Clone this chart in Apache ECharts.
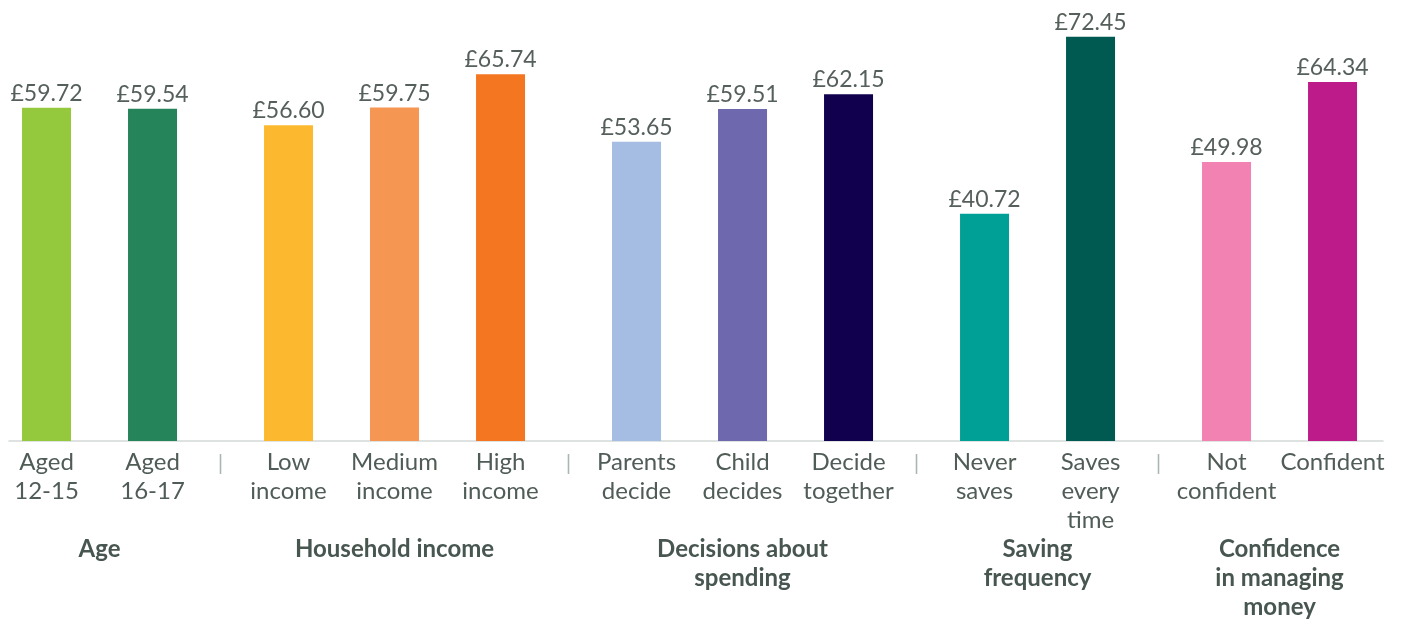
<!DOCTYPE html>
<html>
<head>
<meta charset="utf-8">
<script src="https://cdn.jsdelivr.net/npm/echarts@6/dist/echarts.min.js"></script>
<style>
  html, body { margin: 0; padding: 0; background: #fff; }
  #chart { width: 1401px; height: 619px; }
</style>
</head>
<body>
<div id="chart"></div>
<script>
  // data
  const groups = ['Age', 'Household income', 'Decisions about\nspending', 'Saving\nfrequency', 'Confidence\nin managing\nmoney']
  const categories = ['Aged\n12-15', 'Aged\n16-17', 'Low\nincome', 'Medium\nincome', 'High\nincome',
    'Parents\ndecide', 'Child\ndecides', 'Decide\ntogether', 'Never\nsaves', 'Saves\nevery\ntime',
    'Not\nconfident', 'Confident']
  const groupOf = [0, 0, 1, 1, 1, 2, 2, 2, 3, 3, 4, 4]
  const values = [59.72, 59.54, 56.60, 59.75, 65.74, 53.65, 59.51, 62.15, 40.72, 72.45, 49.98, 64.34]

  // styles
  const colors = ['#94c83d', '#26845a', '#fcb930', '#f59652', '#f47621', '#a5bce3',
    '#6e68ae', '#11004e', '#00a096', '#005a52', '#f182b2', '#bd1a8a']
  const groupGap = 0.283
  const font = 'Lato'

  // slot positions: one unit per bar, plus a gap between groups
  const pos = categories.map((c, i) => i + groupOf[i] * groupGap)
  const groupPos = groups.map((g, gi) => {
    const p = pos.filter((v, i) => groupOf[i] === gi)
    return p.reduce((a, b) => a + b, 0) / p.length
  })
  const sepPos = []
  for (let i = 1; i < pos.length; i++) {
    if (groupOf[i] !== groupOf[i - 1]) sepPos.push((pos[i] + pos[i - 1]) / 2)
  }

  const nearest = (arr, v) => {
    let best = 0
    arr.forEach((p, i) => { if (Math.abs(p - v) < Math.abs(arr[best] - v)) best = i })
    return best
  }

  const xMin = -0.354
  const xMax = 12.608
  const baseX = { type: 'value', min: xMin, max: xMax, position: 'bottom', splitLine: { show: false }, axisTick: { show: false } }

  const chart = echarts.init(document.getElementById('chart'))
  chart.setOption({
    animation: false,
    grid: { left: 9, right: 18, top: 22.5, bottom: 178, containLabel: false, outerBoundsMode: 'none' },
    xAxis: [
      Object.assign({}, baseX, {
        axisLine: { show: true, lineStyle: { color: '#d3d9d6', width: 1.5 } },
        axisLabel: {
          customValues: pos,
          formatter: v => categories[nearest(pos, v)],
          color: '#505c56', fontFamily: font, fontSize: 24, lineHeight: 29, margin: 7
        }
      }),
      Object.assign({}, baseX, {
        axisLine: { show: false },
        axisLabel: {
          customValues: groupPos,
          formatter: v => groups[nearest(groupPos, v)],
          color: '#485650', fontFamily: font, fontWeight: 'bold', fontSize: 24, lineHeight: 29, margin: 94
        }
      }),
      Object.assign({}, baseX, {
        axisLine: { show: false },
        axisLabel: {
          customValues: sepPos,
          formatter: () => '|',
          color: '#aab6b1', fontFamily: font, fontSize: 22, lineHeight: 29, margin: 7
        }
      })
    ],
    yAxis: { type: 'value', min: 0, max: 75, show: false },
    series: [{
      type: 'bar',
      barWidth: 49,
      data: values.map((v, i) => ({ value: [pos[i], v], itemStyle: { color: colors[i] } })),
      label: {
        show: true,
        position: 'top',
        distance: 3,
        formatter: p => '£' + p.value[1].toFixed(2),
        color: '#56605b', fontFamily: font, fontSize: 23, lineHeight: 23
      }
    }]
  })
</script>
</body>
</html>
